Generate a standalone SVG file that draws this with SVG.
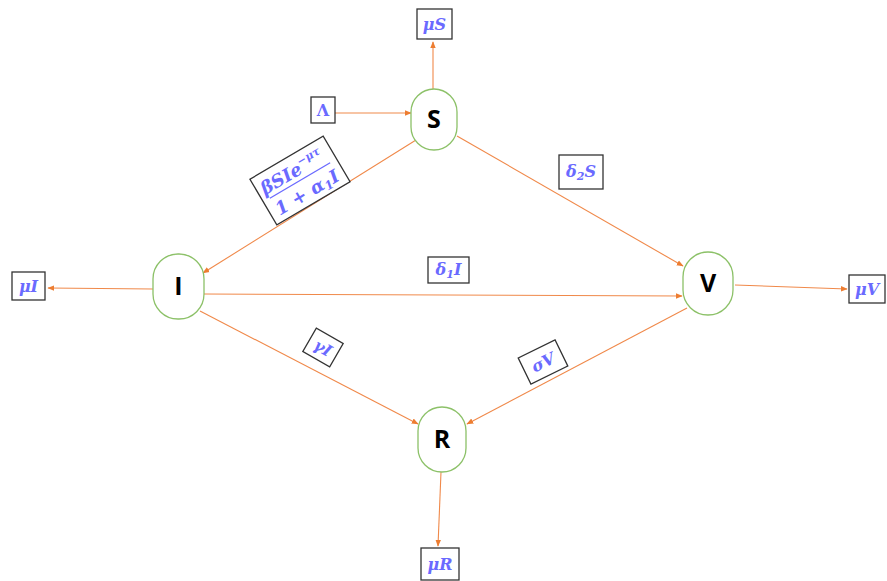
<svg xmlns="http://www.w3.org/2000/svg" width="887" height="581" viewBox="0 0 887 581">
<style>
.node{fill:#fff;stroke:#8cc168;stroke-width:1.3}
.nl{font-family:"Open Sans","Liberation Sans",Arial,sans-serif;font-weight:bold;font-size:25px;fill:#000;text-anchor:middle}
.box{fill:#fff;stroke:#333;stroke-width:1.3}
.m{font-family:"DejaVu Serif","Liberation Serif",serif;font-style:italic;font-weight:bold;font-size:16px;fill:#6a6aff;text-anchor:middle}
.c{stroke:#f0894a;stroke-width:1.1;fill:none;marker-end:url(#ah)}
</style>
<defs>
<marker id="ah" viewBox="0 0 10 10" refX="9" refY="5" markerWidth="7" markerHeight="7" markerUnits="userSpaceOnUse" orient="auto">
<path d="M0,1 L10,5 L0,9 z" fill="#ed7d31"/>
</marker>
</defs>
<rect width="887" height="581" fill="#fff"/>
<g id="connectors">
<line class="c" x1="433" y1="89" x2="433" y2="42"/>
<line class="c" x1="335" y1="113" x2="411" y2="113"/>
<line class="c" x1="416" y1="140" x2="203" y2="273"/>
<line class="c" x1="457" y1="136" x2="683" y2="266"/>
<line class="c" x1="204" y1="294" x2="682" y2="296"/>
<line class="c" x1="153" y1="289" x2="48" y2="288"/>
<line class="c" x1="735" y1="285" x2="847" y2="289"/>
<line class="c" x1="200" y1="311" x2="418" y2="424"/>
<line class="c" x1="687" y1="308" x2="467" y2="424"/>
<line class="c" x1="441" y1="472" x2="438" y2="546"/>
</g>
<g id="node-S"><rect class="node" x="411" y="89" width="46" height="61" rx="23"/><text class="nl" x="434" y="128">S</text></g>
<g id="node-I"><rect class="node" x="153" y="254" width="51" height="65" rx="25"/><text class="nl" x="178.5" y="295">I</text></g>
<g id="node-V"><rect class="node" x="683" y="252" width="50" height="63" rx="25"/><text class="nl" x="708" y="292">V</text></g>
<g id="node-R"><rect class="node" x="418" y="407" width="48" height="65" rx="24"/><text class="nl" x="442" y="448">R</text></g>
<g id="label-muS"><rect class="box" x="417" y="9" width="35" height="30"/><text class="m" x="434.5" y="30">μS</text></g>
<g id="label-Lambda"><rect class="box" x="311" y="97" width="24" height="26"/><text class="m" x="323" y="116" style="font-style:normal">Λ</text></g>
<g id="label-muI"><rect class="box" x="12" y="272" width="33" height="28"/><text class="m" x="28.5" y="292">μI</text></g>
<g id="label-muV"><rect class="box" x="849" y="275" width="36" height="28"/><text class="m" x="867" y="295">μV</text></g>
<g id="label-muR"><rect class="box" x="421" y="548" width="38" height="32"/><text class="m" x="440" y="570">μR</text></g>
<g id="label-d1I"><rect class="box" x="428" y="257" width="41" height="26"/><text class="m" x="448.5" y="275">δ<tspan font-size="11" dy="3">1</tspan><tspan dy="-3">I</tspan></text></g>
<g id="label-d2S"><rect class="box" x="559" y="155" width="44" height="34"/><text class="m" x="581" y="177">δ<tspan font-size="11" dy="3">2</tspan><tspan dy="-3">S</tspan></text></g>
<g id="label-gI" transform="translate(323,347.5) rotate(30)"><rect class="box" x="-15.5" y="-13.5" width="31" height="27"/><text class="m" x="0" y="6">γI</text></g>
<g id="label-sV" transform="translate(543,362) rotate(-26)"><rect class="box" x="-20.5" y="-14.5" width="41" height="29"/><text class="m" x="0" y="6">σV</text></g>
<g id="label-infection" transform="translate(300,180.5) rotate(-30.5)"><rect class="box" x="-42.5" y="-26.5" width="85" height="53"/>
<text class="m" x="-3" y="-5" font-size="18" style="font-size:18px">βSIe<tspan style="font-size:11px" dy="-8">−μτ</tspan></text>
<line x1="-35" y1="0" x2="35" y2="0" stroke="#6a6aff" stroke-width="1.3"/>
<text class="m" x="0" y="20" style="font-size:18px">1 + α<tspan style="font-size:12px" dy="3">1</tspan><tspan dy="-3">I</tspan></text></g>
</svg>
